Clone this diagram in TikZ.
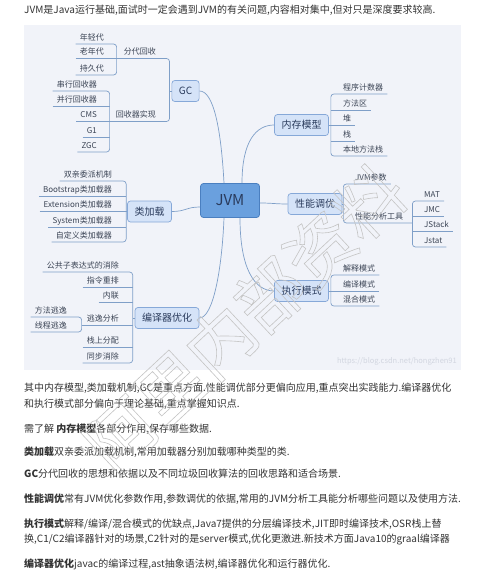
\documentclass[tikz,border=0pt]{standalone}
\usepackage{fontspec}
\setmainfont{Noto Sans CJK SC}
\definecolor{panelbg}{HTML}{F1F3F9}
\definecolor{linkblue}{HTML}{7F9FC8}
\definecolor{topicfill}{HTML}{D5E3F8}
\definecolor{topicdraw}{HTML}{86A8D8}
\definecolor{rootfill}{HTML}{6AA0DE}
\definecolor{rootdraw}{HTML}{4A7FC0}
\definecolor{topictext}{HTML}{2A3B5C}
\definecolor{leaftext}{HTML}{3B4455}
\definecolor{bodytext}{HTML}{333333}
\definecolor{markgray}{HTML}{C4C4C4}
\definecolor{urlgray}{HTML}{D2D6E0}
\tikzset{
    root/.style={rectangle, rounded corners=3pt, draw=rootdraw, fill=rootfill, line width=0.8pt,
                 minimum width=59pt, minimum height=34pt, font=\fontsize{15}{18}\selectfont, text=topictext},
    topic/.style={rectangle, rounded corners=3pt, draw=topicdraw, fill=topicfill, line width=0.7pt,
                  minimum height=21pt, inner xsep=7pt, font=\fontsize{10}{12}\selectfont, text=topictext},
    leafl/.style={anchor=south east, inner xsep=4pt, inner ysep=2pt, text height=6.5pt, text depth=1.5pt,
                  font=\fontsize{8}{10}\selectfont, text=leaftext},
    leafr/.style={leafl, anchor=south west},
    link/.style={draw=linkblue, line width=0.7pt},
    branch/.style={draw=linkblue, line width=0.7pt, rounded corners=3pt},
    bodyline/.style={anchor=base west, inner sep=0pt, font=\fontsize{10}{14}\selectfont, text=bodytext},
}

\begin{document}
\begin{tikzpicture}[x=1pt, y=-1pt]

    \useasboundingbox (0,0) rectangle (489,578);
    \fill[white] (0,0) rectangle (489,578);
    \fill[panelbg] (24,25) rectangle (461,370);

    % ── TOPICS ──
    \node[root]  (jvm)  at (230,200.5) {JVM};
    \node[topic] (gc)   at (185.5,91)  {GC};
    \node[topic] (mem)  at (301.5,125) {内存模型};
    \node[topic] (cls)  at (149.5,211.5) {类加载};
    \node[topic] (perf) at (315,204)   {性能调优};
    \node[topic] (comp) at (167,318)   {编译器优化};
    \node[topic] (exec) at (301.5,291) {执行模式};

    \draw[link] (gc.east) .. controls +(14,0) and +(-3,-55) .. ([xshift=-6pt]jvm.north);
    \draw[link] (mem.west) .. controls +(-18,0) and +(0,-42) .. ([xshift=12pt]jvm.north);
    \draw[link] (cls.east) .. controls +(14,0) and +(-14,0) .. ([yshift=-6.5pt]jvm.west);
    \draw[link] (perf.west) .. controls +(-12,0) and +(12,0) .. ([yshift=-2.5pt]jvm.east);
    \draw[link] (comp.east) .. controls +(14,0) and +(-2,50) .. ([xshift=-6pt]jvm.south);
    \draw[link] (exec.west) .. controls +(-20,0) and +(0,50) .. ([xshift=10pt]jvm.south);

    % ── GC ──
    \node[leafl] (fd) at (160,58.5)  {分代回收};
    \node[leafl] (rc) at (160,121.5) {回收器实现};
    \coordinate (gcb) at ([xshift=-2pt]gc.west);
    \coordinate (fdb) at ([xshift=-3pt]fd.south west);
    \coordinate (rcb) at ([xshift=-2pt]rc.south west);
    \draw[link] (gc.west) -- (gcb);
    \draw[branch] (fdb) -| (gcb |- rc.south) -- (rcb);

    \node[leafl] (f1) at (108,44)   {年轻代};
    \node[leafl] (f2) at (108,58.5) {老年代};
    \node[leafl] (f3) at (108,75)   {持久代};
    \draw[branch] (f1.south west) -| (fdb |- f3.south) -- (f3.south west);
    \draw[branch] (f2.south west) -- (fdb |- f2.south);

    \node[leafl] (r1) at (101,91)    {串行回收器};
    \node[leafl] (r2) at (101,106)   {并行回收器};
    \node[leafl] (r3) at (101,121.5) {CMS};
    \node[leafl] (r4) at (101,137)   {G1};
    \node[leafl] (r5) at (101,152)   {ZGC};
    \draw[branch] (r1.south west) -| (rcb |- r5.south) -- (r5.south west);
    \draw[branch] (r2.south west) -- (rcb |- r2.south);
    \draw[branch] (r3.south west) -- (rcb |- r3.south);
    \draw[branch] (r4.south west) -- (rcb |- r4.south);

    % ── MEMORY MODEL ──
    \coordinate (memb) at ([xshift=2pt]mem.east);
    \draw[link] (mem.east) -- (memb);
    \node[leafr] (m1) at (339,94)  {程序计数器};
    \node[leafr] (m2) at (339,110) {方法区};
    \node[leafr] (m3) at (339,125) {堆};
    \node[leafr] (m4) at (339,141) {栈};
    \node[leafr] (m5) at (339,156) {本地方法栈};
    \draw[branch] (m1.south east) -| (memb |- m5.south) -- (m5.south east);
    \draw[branch] (memb |- m2.south) -- (m2.south east);
    \draw[branch] (memb |- m3.south) -- (m3.south east);
    \draw[branch] (memb |- m4.south) -- (m4.south east);

    % ── CLASS LOADING ──
    \coordinate (clsb) at ([xshift=-1pt]cls.west);
    \draw[link] (cls.west) -- (clsb);
    \node[leafl] (c1) at (116,181)   {双亲委派机制};
    \node[leafl] (c2) at (116,196)   {Bootstrap类加载器};
    \node[leafl] (c3) at (116,211.5) {Extension类加载器};
    \node[leafl] (c4) at (116,227)   {System类加载器};
    \node[leafl] (c5) at (116,242)   {自定义类加载器};
    \draw[branch] (c1.south west) -| (clsb |- c5.south) -- (c5.south west);
    \draw[branch] (c2.south west) -- (clsb |- c2.south);
    \draw[branch] (c3.south west) -- (clsb |- c3.south);
    \draw[branch] (c4.south west) -- (clsb |- c4.south);

    % ── TUNING ──
    \coordinate (perfb) at ([xshift=1pt]perf.east);
    \draw[link] (perf.east) -- (perfb);
    \node[leafr] (p1) at (351,184) {JVM参数};
    \node[leafr] (p2) at (351,223) {性能分析工具};
    \coordinate (toolb) at ([xshift=5pt]p2.south east);
    \draw[branch] (p1.south east) -| (perfb |- p2.south) -- (toolb);

    \node[leafr] (t1) at (420,201) {MAT};
    \node[leafr] (t2) at (420,216) {JMC};
    \node[leafr] (t3) at (420,231) {JStack};
    \node[leafr] (t4) at (420,247) {Jstat};
    \draw[branch] (t1.south east) -| (toolb |- t4.south) -- (t4.south east);
    \draw[branch] (toolb |- t2.south) -- (t2.south east);
    \draw[branch] (toolb |- t3.south) -- (t3.south east);

    % ── EXECUTION MODE ──
    \coordinate (execb) at ([xshift=2pt]exec.east);
    \draw[link] (exec.east) -- (execb);
    \node[leafr] (e1) at (339,275) {解释模式};
    \node[leafr] (e2) at (339,291) {编译模式};
    \node[leafr] (e3) at (339,306) {混合模式};
    \draw[branch] (e1.south east) -| (execb |- e3.south) -- (e3.south east);
    \draw[branch] (execb |- e2.south) -- (e2.south east);

    % ── COMPILER OPTIMISATION ──
    \coordinate (compb) at ([xshift=-2pt]comp.west);
    \draw[link] (comp.west) -- (compb);
    \node[leafl] (k1) at (123,272) {公共子表达式的消除};
    \node[leafl] (k2) at (123,287) {指令重排};
    \node[leafl] (k3) at (123,302) {内联};
    \node[leafl] (k4) at (123,325) {逃逸分析};
    \node[leafl] (k5) at (123,347) {栈上分配};
    \node[leafl] (k6) at (123,363) {同步消除};
    \coordinate (escb) at ([xshift=-1pt]k4.south west);
    \draw[branch] (k1.south west) -| (compb |- k6.south) -- (k6.south west);
    \draw[branch] (k2.south west) -- (compb |- k2.south);
    \draw[branch] (k3.south west) -- (compb |- k3.south);
    \draw[branch] (escb) -- (compb |- k4.south);
    \draw[branch] (k5.south west) -- (compb |- k5.south);

    \node[leafl] (s1) at (71,317) {方法逃逸};
    \node[leafl] (s2) at (71,332) {线程逃逸};
    \draw[branch] (s1.south west) -| (escb |- s2.south) -- (s2.south west);

    \node[anchor=base east, inner sep=0pt, font=\fontsize{7.5}{9}\selectfont, text=urlgray]
        (url) at (457,363) {https://blog.csdn.net/hongzhen91};

    % ── TEXT ──
    \node[bodyline] (intro) at (24,13.5) {JVM是Java运行基础,面试时一定会遇到JVM的有关问题,内容相对集中,但对只是深度要求较高.};
    \node[bodyline] (b1a) at (24,391.5) {其中内存模型,类加载机制,GC是重点方面.性能调优部分更偏向应用,重点突出实践能力.编译器优化};
    \node[bodyline] (b1b) at (24,407.5) {和执行模式部分偏向于理论基础,重点掌握知识点.};
    \node[bodyline] (b2)  at (24,432.5) {需了解 \textbf{内存模型}各部分作用,保存哪些数据.};
    \node[bodyline] (b3)  at (24,455.5) {\textbf{类加载}双亲委派加载机制,常用加载器分别加载哪种类型的类.};
    \node[bodyline] (b4)  at (24,477.5) {\textbf{GC}分代回收的思想和依据以及不同垃圾回收算法的回收思路和适合场景.};
    \node[bodyline] (b5)  at (24,502.5) {\textbf{性能调优}常有JVM优化参数作用,参数调优的依据,常用的JVM分析工具能分析哪些问题以及使用方法.};
    \node[bodyline] (b6a) at (24,527.5) {\textbf{执行模式}解释/编译/混合模式的优缺点,Java7提供的分层编译技术,JIT即时编译技术,OSR栈上替};
    \node[bodyline] (b6b) at (24,542.5) {换,C1/C2编译器针对的场景,C2针对的是server模式,优化更激进.新技术方面Java10的graal编译器};
    \node[bodyline] (b7)  at (24,567.5) {\textbf{编译器优化}javac的编译过程,ast抽象语法树,编译器优化和运行器优化.};

    % ── WATERMARK ──
    \node[rotate=43, inner sep=0pt, font=\fontsize{68}{68}\selectfont, text=markgray] (mark) at (245,318)
        {\special{pdf:literal direct 1 Tr 0.6 w}阿里内部资料\special{pdf:literal direct 0 Tr}};

\end{tikzpicture}
\end{document}
